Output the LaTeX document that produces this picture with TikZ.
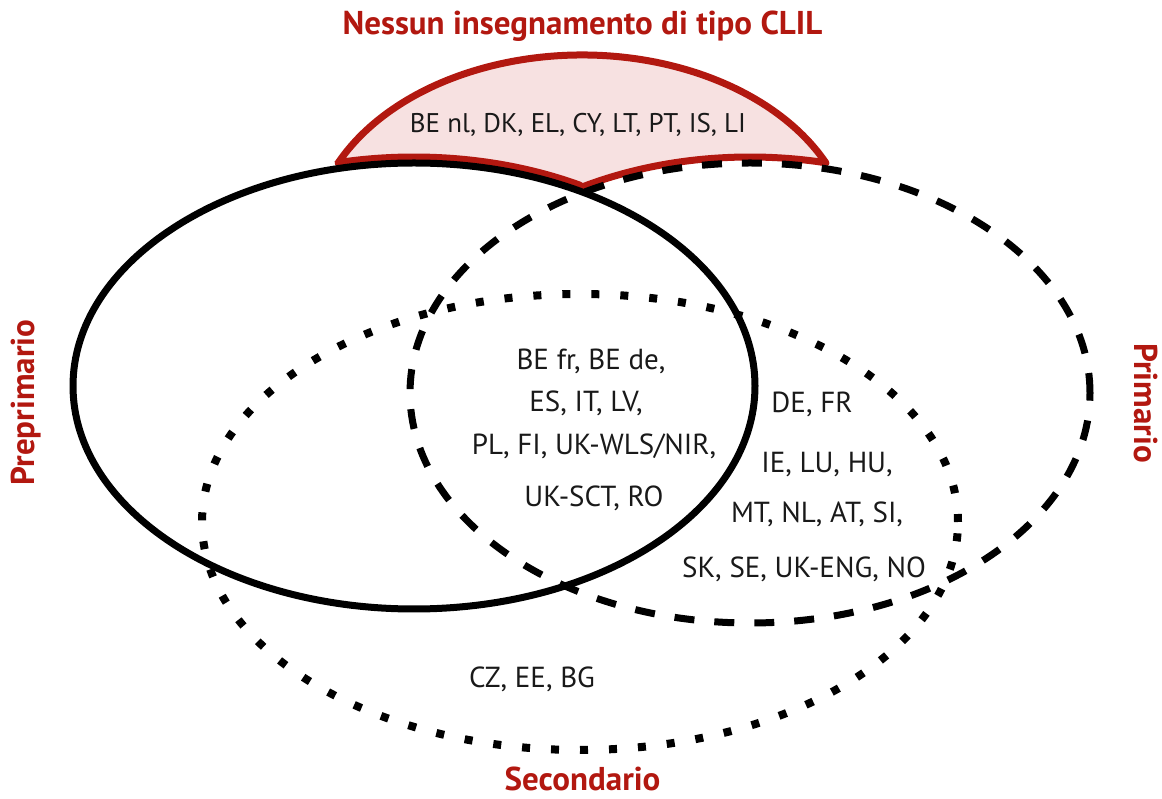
\documentclass[tikz,border=0pt]{standalone}
\usepackage{fontspec}
\setmainfont{PT Sans}
\definecolor{capred}{RGB}{178,24,16}
\definecolor{cappink}{RGB}{247,225,225}
\definecolor{txt}{RGB}{25,25,25}
\begin{document}
\begin{tikzpicture}[x=1pt,y=1pt,
  lbl/.style={font=\fontsize{29}{33}\selectfont, text=txt, inner sep=0, anchor=base},
  caplbl/.style={font=\fontsize{27}{31}\selectfont, text=txt, inner sep=0, anchor=base},
  ttl/.style={font=\fontsize{33}{37}\selectfont\bfseries, text=capred, inner sep=0, anchor=base},
  solidring/.style={draw=black, line width=7pt},
  dashring/.style={draw=black, line width=7pt, dash pattern=on 20pt off 20pt},
  dotring/.style={draw=black, line width=8pt, dash pattern=on 8pt off 21pt},
  capshape/.style={draw=capred, fill=cappink, line width=7pt, line join=round}]
\useasboundingbox (0,0) rectangle (1162,798);
% centres
\coordinate (Cb) at (582,554);
\coordinate (S) at (414,412);
\coordinate (D) at (750,405);
\coordinate (T) at (580,276);
\coordinate (Sp) at (414,418);
\coordinate (Dp) at (750,411);
% cap region
\path[capshape] ([shift={(154.6:270pt and 189pt)}]Cb)
  arc[start angle=154.6, end angle=25.4, x radius=270pt, y radius=189pt]
  -- ([shift={(77.1:340pt and 230pt)}]Dp)
  arc[start angle=77.1, end angle=120, x radius=340pt, y radius=230pt]
  -- ([shift={(60.9:341pt and 223pt)}]Sp)
  arc[start angle=60.9, end angle=102.9, x radius=341pt, y radius=223pt]
  -- cycle;
% rings
\draw[solidring] (S) ellipse [x radius=341pt, y radius=223pt];
\draw[dashring] (D) ellipse [x radius=340pt, y radius=230pt];
\draw[dotring] (T) ellipse [x radius=378pt, y radius=228pt];
% titles
\node[ttl] (tnone) at (582.5,763) {Nessun insegnamento di tipo CLIL};
\node[ttl] (tsec) at (582.5,8) {Secondario};
\node[ttl, rotate=90] (tpre) at (34,395.5) {Preprimario};
\node[ttl, rotate=-90] (tpri) at (1134,395) {Primario};
% labels
\node[caplbl] (lcap) at (578,665) {BE nl, DK, EL, CY, LT, PT, IS, LI};
\node[lbl] (lc1) at (591,428) {BE fr, BE de,};
\node[lbl] (lc2) at (586,386) {ES, IT, LV,};
\node[lbl] (lc3) at (594,343) {PL, FI, UK-WLS/NIR,};
\node[lbl] (lc4) at (594,291) {UK-SCT, RO};
\node[lbl] (lr1) at (812,385) {DE, FR};
\node[lbl] (lr2) at (827,325) {IE, LU, HU,};
\node[lbl] (lr3) at (817,275) {MT, NL, AT, SI,};
\node[lbl] (lr4) at (804,220) {SK, SE, UK-ENG, NO};
\node[lbl] (lb1) at (532,110) {CZ, EE, BG};
\end{tikzpicture}
\end{document}
